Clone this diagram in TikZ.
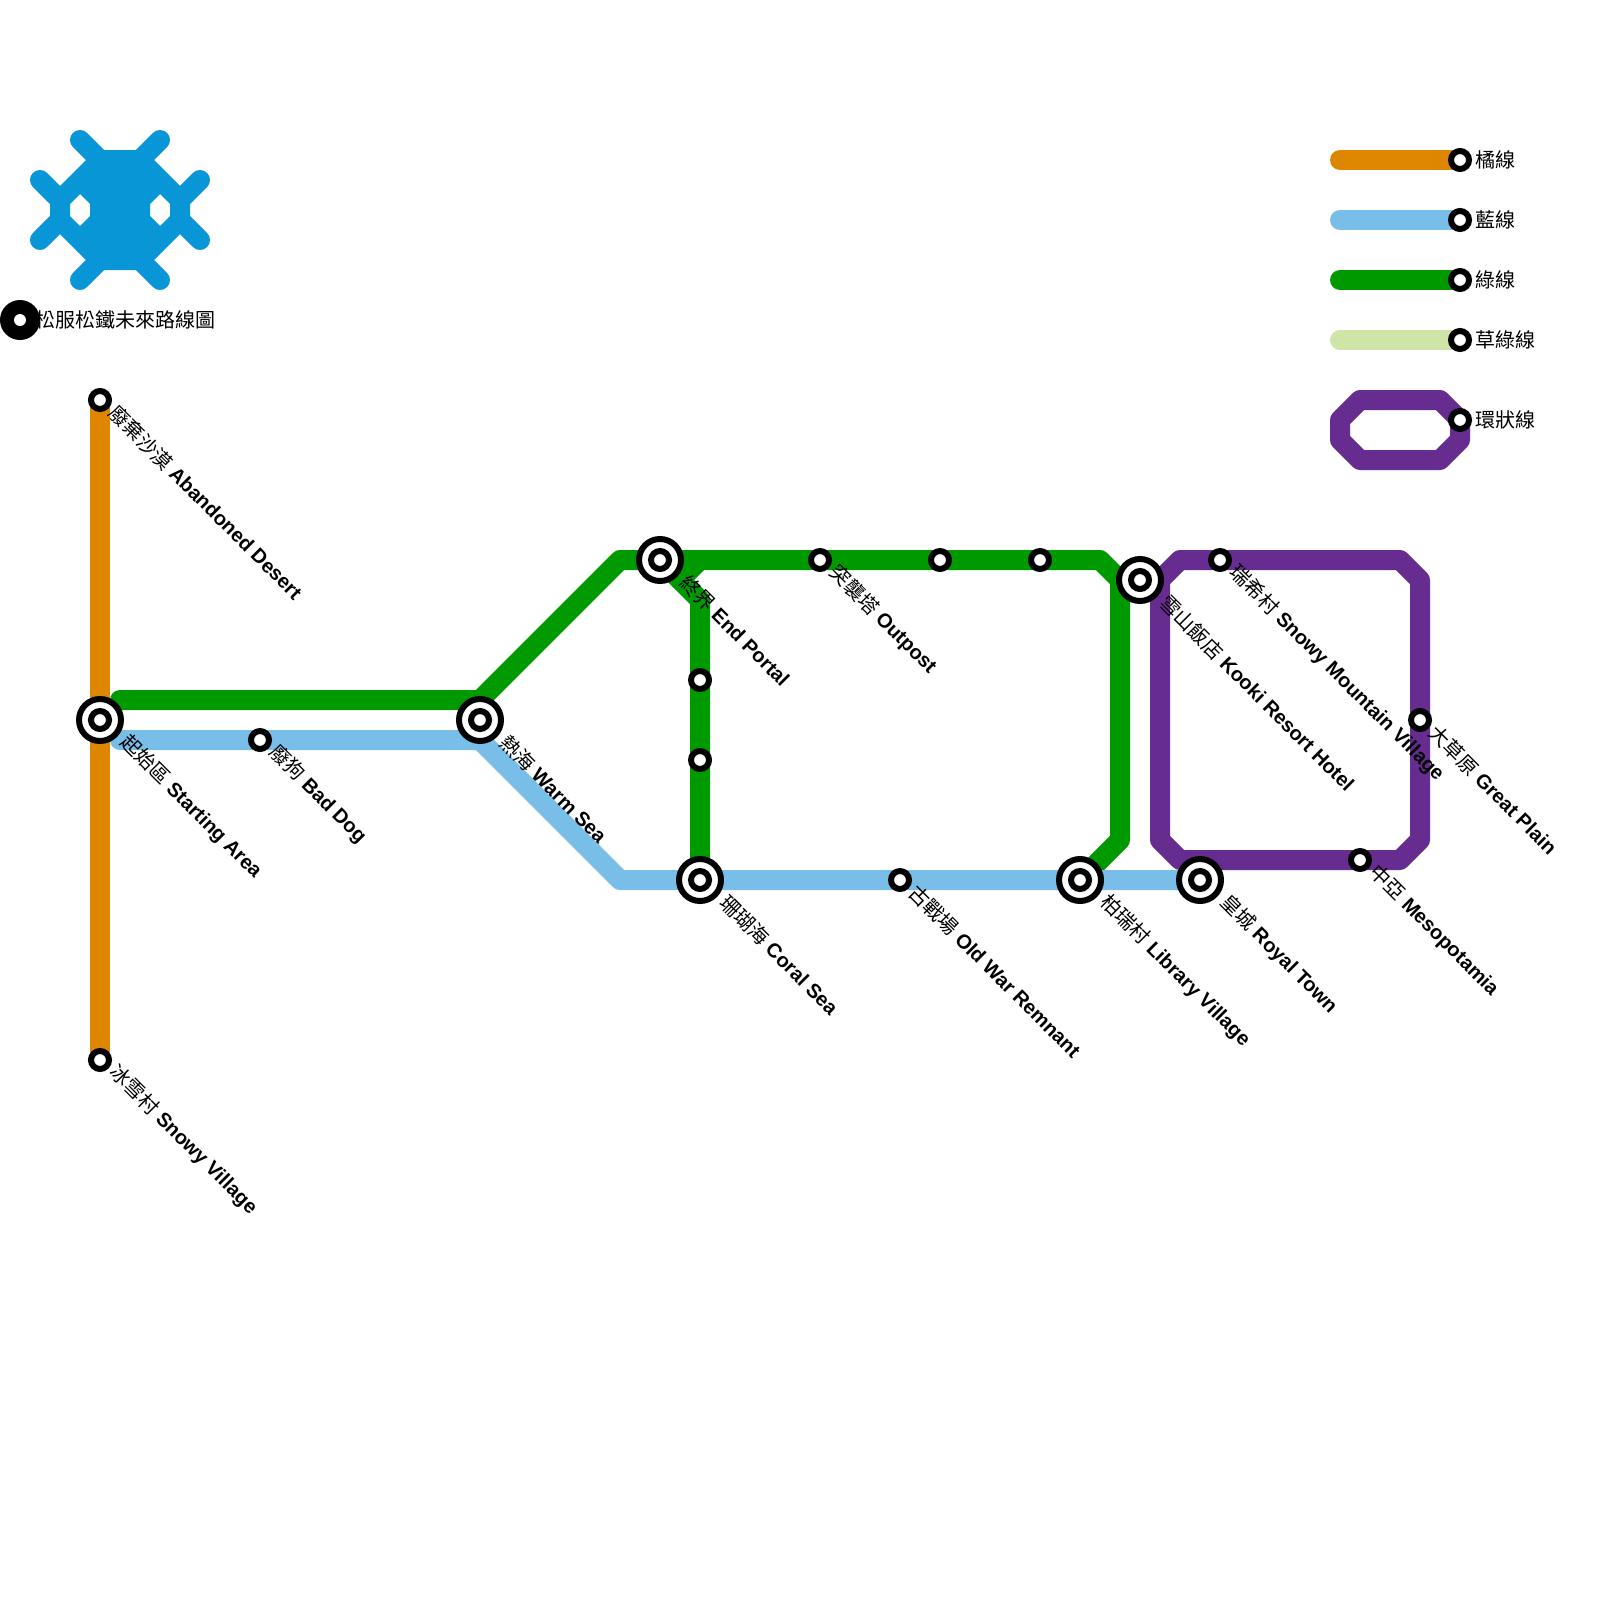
\documentclass[tikz,border=0pt]{standalone}
\usepackage{fontspec}
\setmainfont{Liberation Sans}
\newfontfamily\cjk{Noto Sans CJK TC}
\usetikzlibrary{positioning}
\usetikzlibrary{backgrounds}

\definecolor{lineorange}{HTML}{DF8600}
\definecolor{lineblue}{HTML}{79BDE9}
\definecolor{linegreen}{HTML}{009900}
\definecolor{linegrass}{HTML}{CFE4A7}
\definecolor{linepurple}{HTML}{662C90}
\definecolor{logoblue}{HTML}{0896D7}

\newcommand{\stnname}[2]{{\cjk #1} \textbf{#2}}

\begin{document}
\begin{tikzpicture}[
    x=1pt,y=-1pt,
    font={\fontsize{20pt}{24pt}\selectfont},
% Station style
    smallstn/.style={circle,draw=black,line width=6pt,fill=white,inner sep=0pt,minimum size=18pt},
    bigstn/.style={circle,draw=black,line width=6pt,fill=white,inner sep=0pt,minimum size=42pt,
		label={[smallstn]center:}},
% Label style
    stnlabel/.style={anchor=west,rotate=-45,inner sep=0pt,xshift=15.5pt,yshift=2.5pt},
    biglabel/.style={anchor=west,rotate=-45,inner sep=0pt,xshift=30pt,yshift=3pt},
    keylabel/.style={anchor=west,inner sep=0pt,font={\fontsize{20pt}{24pt}\selectfont\cjk},xshift=15pt},
% Line style
    metro/.style={line width=20pt,line cap=round,line join=round}
    ]
  \useasboundingbox (0,0) rectangle (1600,1600);

  % logo
  \fill[logoblue,even odd rule] (96,150) -- (144,150) -- (190,196) -- (190,224) -- (144,270)
    -- (96,270) -- (50,224) -- (50,196) -- cycle
    (80,194) -- (90,204) -- (90,216) -- (80,226) -- (70,216) -- (70,204) -- cycle
    (160,194) -- (170,204) -- (170,216) -- (160,226) -- (150,216) -- (150,204) -- cycle;
  \draw[logoblue,line width=20pt,line cap=round] (80,140) -- (100,160) (160,140) -- (140,160)
    (80,280) -- (100,260) (160,280) -- (140,260)
    (40,180) -- (60,200) (40,240) -- (60,220) (200,180) -- (180,200) (200,240) -- (180,220);

  \node (title) [anchor=west,inner sep=0pt,font={\fontsize{20pt}{24pt}\selectfont\cjk}] at (35,320) {松服松鐵未來路線圖};
  \node (logostn) [circle,fill=black,inner sep=0pt,minimum size=40pt] at (20,320) {};
  \node (logohole) [circle,fill=white,inner sep=0pt,minimum size=12pt] at (logostn) {};

  % stations
  \node (sAband) [smallstn] at (100,400) {};
  \node (sStart) [bigstn] at (100,720) {};
  \node (sSnowy) [smallstn] at (100,1060) {};
  \node (sDog) [smallstn] at (260,740) {};
  \node (sWarm) [bigstn] at (480,720) {};
  \node (sEnd) [bigstn] at (660,560) {};
  \node (sOutpost) [smallstn] at (820,560) {};
  \node (sTopA) [smallstn] at (940,560) {};
  \node (sTopB) [smallstn] at (1040,560) {};
  \node (sKooki) [bigstn] at (1140,580) {};
  \node (sMount) [smallstn] at (1220,560) {};
  \node (sPlain) [smallstn] at (1420,720) {};
  \node (sMeso) [smallstn] at (1360,860) {};
  \node (sRoyal) [bigstn] at (1200,880) {};
  \node (sLib) [bigstn] at (1080,880) {};
  \node (sWar) [smallstn] at (900,880) {};
  \node (sCoral) [bigstn] at (700,880) {};
  \node (sMidA) [smallstn] at (700,680) {};
  \node (sMidB) [smallstn] at (700,760) {};

  % bends
  \coordinate (gStart) at (120,700);
  \coordinate (gBendA) at (480,700);
  \coordinate (gBendB) at (620,560);
  \coordinate (gBendC) at (1100,560);
  \coordinate (gBendD) at (1120,580);
  \coordinate (gBendE) at (1120,840);
  \coordinate (gForkA) at (700,600);
  \coordinate (gForkB) at (680,580);
  \coordinate (gForkC) at (700,560);
  \coordinate (bStart) at (120,740);
  \coordinate (bBendA) at (480,740);
  \coordinate (bBendB) at (620,880);
  \coordinate (pA) at (1180,560);
  \coordinate (pB) at (1400,560);
  \coordinate (pC) at (1420,580);
  \coordinate (pD) at (1420,840);
  \coordinate (pE) at (1400,860);
  \coordinate (pF) at (1180,860);
  \coordinate (pG) at (1160,840);
  \coordinate (pH) at (1160,580);

  % key
  \node (kOrange) [smallstn] at (1460,160) {};
  \node (kBlue) [smallstn] at (1460,220) {};
  \node (kGreen) [smallstn] at (1460,280) {};
  \node (kGrass) [smallstn] at (1460,340) {};
  \node (kLoop) [smallstn] at (1460,420) {};
  \coordinate (kOrangeEnd) at (1340,160);
  \coordinate (kBlueEnd) at (1340,220);
  \coordinate (kGreenEnd) at (1340,280);
  \coordinate (kGrassEnd) at (1340,340);
  \coordinate (kLoopA) at (1360,400);
  \coordinate (kLoopB) at (1440,400);
  \coordinate (kLoopC) at (1460,440);
  \coordinate (kLoopD) at (1440,460);
  \coordinate (kLoopE) at (1360,460);
  \coordinate (kLoopF) at (1340,440);
  \coordinate (kLoopG) at (1340,420);

\begin{pgfonlayer}{background}
  \draw[metro,lineorange] (sAband.center) -- (sSnowy.center);
  \draw[metro,linegreen] (gStart) -- (gBendA) -- (gBendB) -- (gBendC) -- (gBendD) -- (gBendE) -- (sLib.center);
  \draw[metro,linegreen] (sEnd.center) -- (gForkB) -- (gForkA) -- (sCoral.center);
  \draw[metro,linegreen] (gForkB) -- (gForkC);
  \draw[metro,lineblue] (bStart) -- (bBendA) -- (bBendB) -- (sCoral.center) -- (sRoyal.center);
  \draw[metro,linepurple] (pA) -- (pB) -- (pC) -- (pD) -- (pE) -- (pF) -- (pG) -- (pH) -- cycle;

  \draw[metro,lineorange] (kOrangeEnd) -- (kOrange.center);
  \draw[metro,lineblue] (kBlueEnd) -- (kBlue.center);
  \draw[metro,linegreen] (kGreenEnd) -- (kGreen.center);
  \draw[metro,linegrass] (kGrassEnd) -- (kGrass.center);
  \draw[metro,linepurple] (kLoopA) -- (kLoopB) -- (kLoop.center) -- (kLoopC) -- (kLoopD) -- (kLoopE) -- (kLoopF) -- (kLoopG) -- cycle;
\end{pgfonlayer}

  % labels
  \node (tAband) [stnlabel] at (sAband) {\stnname{廢棄沙漠}{Abandoned Desert}};
  \node (tStart) [biglabel] at (sStart) {\stnname{起始區}{Starting Area}};
  \node (tSnowy) [stnlabel] at (sSnowy) {\stnname{冰雪村}{Snowy Village}};
  \node (tDog) [stnlabel] at (sDog) {\stnname{廢狗}{Bad Dog}};
  \node (tWarm) [biglabel] at (sWarm) {\stnname{熱海}{Warm Sea}};
  \node (tEnd) [biglabel] at (sEnd) {\stnname{終界}{End Portal}};
  \node (tOutpost) [stnlabel] at (sOutpost) {\stnname{突襲塔}{Outpost}};
  \node (tKooki) [biglabel] at (sKooki) {\stnname{雪山飯店}{Kooki Resort Hotel}};
  \node (tMount) [stnlabel] at (sMount) {\stnname{瑞希村}{Snowy Mountain Village}};
  \node (tPlain) [stnlabel] at (sPlain) {\stnname{大草原}{Great Plain}};
  \node (tMeso) [stnlabel] at (sMeso) {\stnname{中亞}{Mesopotamia}};
  \node (tRoyal) [biglabel] at (sRoyal) {\stnname{皇城}{Royal Town}};
  \node (tLib) [biglabel] at (sLib) {\stnname{柏瑞村}{Library Village}};
  \node (tWar) [stnlabel] at (sWar) {\stnname{古戰場}{Old War Remnant}};
  \node (tCoral) [biglabel] at (sCoral) {\stnname{珊瑚海}{Coral Sea}};

  \node (tkOrange) [keylabel] at (kOrange) {橘線};
  \node (tkBlue) [keylabel] at (kBlue) {藍線};
  \node (tkGreen) [keylabel] at (kGreen) {綠線};
  \node (tkGrass) [keylabel] at (kGrass) {草綠線};
  \node (tkLoop) [keylabel] at (kLoop) {環狀線};

\end{tikzpicture}
\end{document}
